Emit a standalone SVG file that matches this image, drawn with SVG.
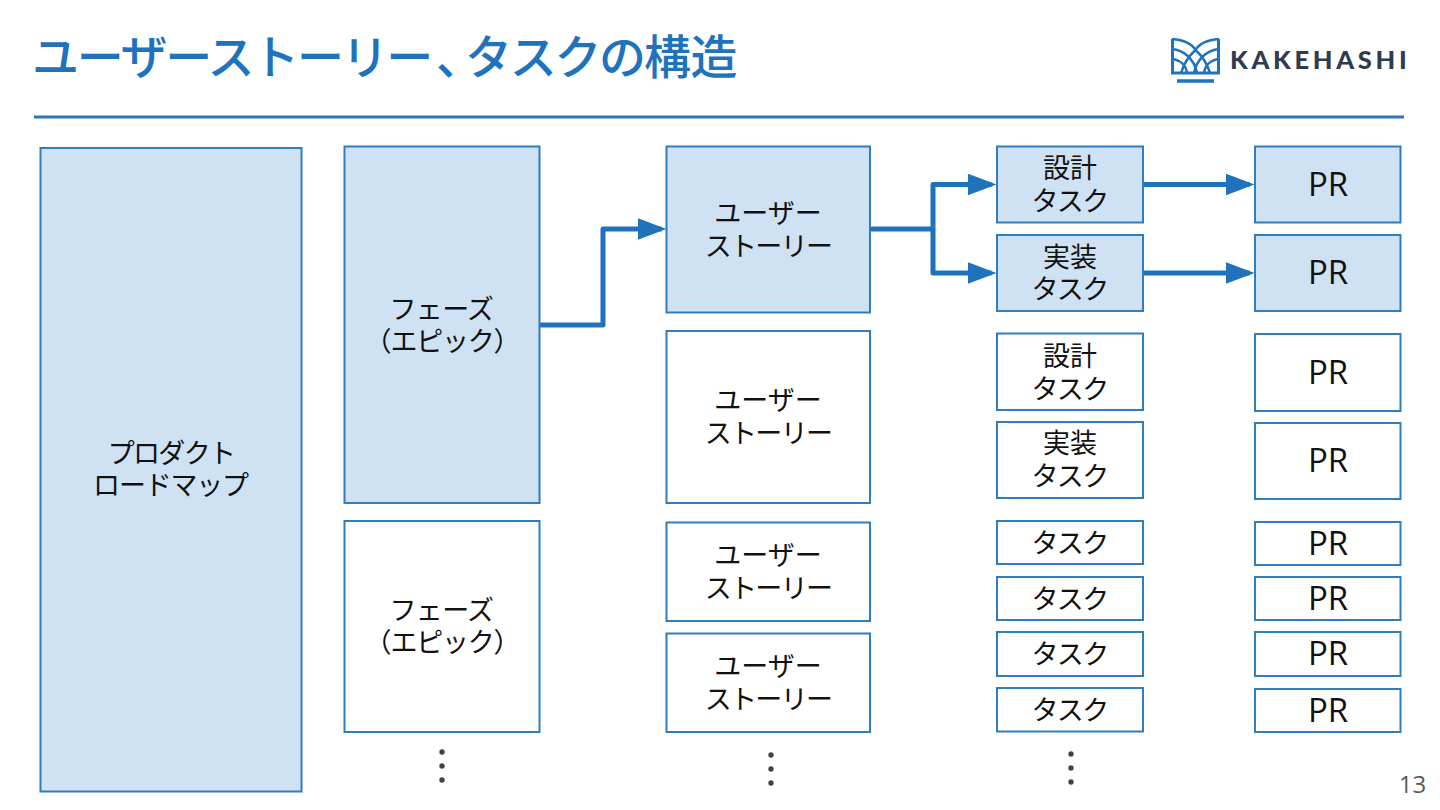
<svg xmlns="http://www.w3.org/2000/svg" width="1440" height="810" viewBox="0 0 1440 810">
<style>
text{font-family:"Noto Sans CJK JP","Noto Sans",sans-serif;}
.b{stroke:#2f7dbd;stroke-width:2;fill:#fff}
.f{fill:#cfe2f3}
.t{font-size:27px;fill:#111;text-anchor:middle}
.k{letter-spacing:-1.700px}
.m{letter-spacing:-1.200px}
.p{font-family:"Open Sans","Noto Sans",sans-serif;font-size:33px;fill:#111;text-anchor:middle}
.c{fill:none;stroke:#1f73bd;stroke-width:5;stroke-linejoin:round}
.d{fill:#434343}
.l{fill:none;stroke:#1f73bd;stroke-width:2.500}
</style>
<defs>
<marker id="a" markerUnits="userSpaceOnUse" markerWidth="30" markerHeight="22" refX="24" refY="11" orient="auto"><path d="M0 0L29 11L0 22Z" fill="#1f73bd"/></marker>
</defs>
<text id="title" y="74" font-size="47" font-weight="500" fill="#1f73bd" letter-spacing="-2.300"><tspan x="32">ユーザーストーリー</tspan><tspan x="436">、</tspan><tspan x="465">タスクの</tspan><tspan x="644" letter-spacing="-0.500">構造</tspan></text>
<path id="rule" d="M34 117H1404" stroke="#2a77bb" stroke-width="3"/>
<g id="logo">
<path class="l" style="stroke-width:3" d="M1172.500 39V73H1218.500V39"/>
<path class="l" d="M1172 39C1184 40 1192 44 1195.500 50C1199 44 1207 40 1219 39M1172 49C1183 50 1194 58 1197 73M1219 49C1208 50 1197 58 1194 73M1172 59C1180 60 1186 65 1187 73M1219 59C1211 60 1205 65 1204 73M1195.500 50C1191 54 1185 60 1181 73M1195.500 50C1200 54 1206 60 1210 73"/>
<path d="M1177 81H1214" stroke="#1f73bd" stroke-width="3.500"/>
<text x="1230" y="69" style="font-family:Lato,sans-serif" font-size="25.500" font-weight="900" letter-spacing="3.700" fill="#2f3b4f">KAKEHASHI</text>
</g>
<g id="connectors">
<path class="c" d="M540 325H603V229H661.500" marker-end="url(#a)"/>
<path class="c" d="M870 229H933V184.500H991.500" marker-end="url(#a)"/>
<path class="c" d="M933 229V273H991.500" marker-end="url(#a)"/>
<path class="c" d="M1143 184.500H1249.500" marker-end="url(#a)"/>
<path class="c" d="M1143 273H1249.500" marker-end="url(#a)"/>
</g>
<g id="roadmap"><rect class="b f" x="40.500" y="148" width="261" height="643.500"/><text class="t k" x="171" y="463">プロダクト</text><text class="t m" x="170.500" y="495">ロードマップ</text></g>
<g id="phase1"><rect class="b f" x="344.500" y="146.500" width="195" height="356.500"/><text class="t" style="letter-spacing:-.7px" x="441.500" y="319">フェーズ</text><text class="t m" x="442" y="351">（エピック）</text></g>
<g id="phase2"><rect class="b" x="344.500" y="521" width="195" height="211"/><text class="t" style="letter-spacing:-.7px" x="441.500" y="620">フェーズ</text><text class="t m" x="442" y="652">（エピック）</text></g>
<g id="story1"><rect class="b f" x="666.500" y="146.500" width="203.500" height="166"/><text class="t" x="768" y="223">ユーザー</text><text class="t k" x="768" y="256">ストーリー</text></g>
<g id="story2"><rect class="b" x="666.500" y="331" width="203.500" height="172"/><text class="t" x="768" y="410">ユーザー</text><text class="t k" x="768" y="443">ストーリー</text></g>
<g id="story3"><rect class="b" x="666.500" y="522.500" width="203.500" height="98.500"/><text class="t" x="768" y="565">ユーザー</text><text class="t k" x="768" y="598">ストーリー</text></g>
<g id="story4"><rect class="b" x="666.500" y="633.500" width="203.500" height="98.500"/><text class="t" x="768" y="676">ユーザー</text><text class="t k" x="768" y="709">ストーリー</text></g>
<g id="task1"><rect class="b f" x="997" y="146.500" width="146" height="76"/><text class="t" x="1070" y="178">設計</text><text class="t k" x="1069.500" y="211">タスク</text></g>
<g id="task2"><rect class="b f" x="997" y="235" width="146" height="76"/><text class="t" x="1070" y="267">実装</text><text class="t k" x="1069.500" y="299">タスク</text></g>
<g id="task3"><rect class="b" x="997" y="333.500" width="146" height="76.500"/><text class="t" x="1070" y="366">設計</text><text class="t k" x="1069.500" y="399">タスク</text></g>
<g id="task4"><rect class="b" x="997" y="422" width="146" height="76"/><text class="t" x="1070" y="453">実装</text><text class="t k" x="1069.500" y="486">タスク</text></g>
<g id="task5"><rect class="b" x="997" y="521" width="146" height="43"/><text class="t k" x="1069.500" y="553">タスク</text></g>
<g id="task6"><rect class="b" x="997" y="577" width="146" height="43"/><text class="t k" x="1069.500" y="609">タスク</text></g>
<g id="task7"><rect class="b" x="997" y="632" width="146" height="44"/><text class="t k" x="1069.500" y="664">タスク</text></g>
<g id="task8"><rect class="b" x="997" y="688" width="146" height="43.500"/><text class="t k" x="1069.500" y="720">タスク</text></g>
<g id="pr1"><rect class="b f" x="1255" y="146.500" width="145.500" height="76"/><text class="p" x="1328" y="196">PR</text></g>
<g id="pr2"><rect class="b f" x="1255" y="235" width="145.500" height="76"/><text class="p" x="1328" y="284">PR</text></g>
<g id="pr3"><rect class="b" x="1255" y="334" width="145.500" height="77"/><text class="p" x="1328" y="384">PR</text></g>
<g id="pr4"><rect class="b" x="1255" y="423" width="145.500" height="76"/><text class="p" x="1328" y="472">PR</text></g>
<g id="pr5"><rect class="b" x="1255" y="522" width="145.500" height="43"/><text class="p" x="1328" y="555">PR</text></g>
<g id="pr6"><rect class="b" x="1255" y="577" width="145.500" height="43"/><text class="p" x="1328" y="610">PR</text></g>
<g id="pr7"><rect class="b" x="1255" y="632" width="145.500" height="44"/><text class="p" x="1328" y="665">PR</text></g>
<g id="pr8"><rect class="b" x="1255" y="689" width="145.500" height="43"/><text class="p" x="1328" y="722">PR</text></g>
<g id="dots" class="d"><circle cx="442" cy="752" r="2.700"/><circle cx="442" cy="766" r="2.700"/><circle cx="442" cy="780" r="2.700"/><circle cx="771" cy="755" r="2.700"/><circle cx="771" cy="769" r="2.700"/><circle cx="771" cy="783" r="2.700"/><circle cx="1071" cy="754" r="2.700"/><circle cx="1071" cy="768" r="2.700"/><circle cx="1071" cy="782" r="2.700"/></g>
<text id="page" x="1412.500" y="793" text-anchor="middle" style="font-family:'Open Sans',sans-serif" font-size="24" fill="#595959">13</text>
</svg>
